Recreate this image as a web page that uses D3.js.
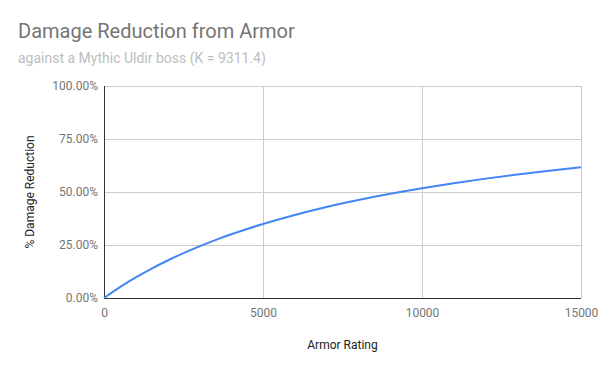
<!DOCTYPE html>
<html><head><meta charset="utf-8">
<script src="https://cdn.jsdelivr.net/npm/d3@7"></script>
<style>body{margin:0;background:#fff}svg{display:block;font-family:Roboto,sans-serif}</style>
</head><body>
<script>
const armor = [0,500,1000,1500,2000,2500,3000,3500,4000,4500,5000,6000,7000,8000,9000,10000,11000,12000,13000,14000,15000];
const reduction = [0,0.0510,0.0970,0.1387,0.1768,0.2117,0.2437,0.2732,0.3005,0.3258,0.3494,0.3919,0.4292,0.4621,0.4915,0.5178,0.5416,0.5631,0.5827,0.6006,0.6170];
const xTicks = [0,5000,10000,15000];
const yTicks = [0,0.25,0.5,0.75,1];

const W=600,H=371;
const m={l:104,r:19,t:86,b:73};
const svg=d3.select("body").append("svg").attr("width",W).attr("height",H);
svg.append("rect").attr("width",W).attr("height",H).attr("fill","#fff");
const x=d3.scaleLinear().domain([0,15000]).range([m.l,W-m.r]);
const y=d3.scaleLinear().domain([0,1]).range([H-m.b,m.t]);

svg.append("text").attr("x",18).attr("y",38).attr("font-size",20).attr("fill","#757575").text("Damage Reduction from Armor");
svg.append("text").attr("x",18).attr("y",63).attr("font-size",14).attr("fill","#bdbdbd").text("against a Mythic Uldir boss (K = 9311.4)");

// grid
svg.append("g").selectAll("line").data(yTicks.filter(d=>d>0)).join("line")
  .attr("x1",m.l).attr("x2",W-m.r).attr("y1",d=>Math.round(y(d))+0.5).attr("y2",d=>Math.round(y(d))+0.5)
  .attr("stroke","#cccccc");
svg.append("g").selectAll("line").data(xTicks.filter(d=>d>0)).join("line")
  .attr("y1",m.t).attr("y2",H-m.b).attr("x1",d=>Math.round(x(d))+0.5).attr("x2",d=>Math.round(x(d))+0.5)
  .attr("stroke","#cccccc");

// axes
const xa=svg.append("g").attr("transform",`translate(0,${H-m.b})`)
  .call(d3.axisBottom(x).tickValues(xTicks).tickSize(0).tickPadding(10).tickFormat(d3.format("d")));
const ya=svg.append("g").attr("transform",`translate(${m.l},0)`)
  .call(d3.axisLeft(y).tickValues(yTicks).tickSize(0).tickPadding(6).tickFormat(d=>(d*100).toFixed(2)+"%"));
[xa,ya].forEach(a=>{a.select(".domain").remove();a.selectAll("text").attr("font-size",12).attr("fill","#757575").attr("font-family","Roboto,sans-serif");});
svg.append("line").attr("x1",m.l).attr("x2",W-m.r).attr("y1",H-m.b+0.5).attr("y2",H-m.b+0.5).attr("stroke","#333");
svg.append("line").attr("x1",m.l+0.5).attr("x2",m.l+0.5).attr("y1",m.t).attr("y2",H-m.b).attr("stroke","#333");

// line
svg.append("path").datum(armor.map((a,i)=>[a,reduction[i]]))
  .attr("fill","none").attr("stroke","#4285f4").attr("stroke-width",2)
  .attr("d",d3.line().x(d=>x(d[0])).y(d=>y(d[1])).curve(d3.curveMonotoneX));

svg.append("text").attr("x",(m.l+W-m.r)/2).attr("y",349).attr("text-anchor","middle").attr("font-size",12).attr("fill","#222").text("Armor Rating");
svg.append("text").attr("transform",`translate(34,${(m.t+H-m.b)/2}) rotate(-90)`).attr("text-anchor","middle").attr("font-size",12).attr("fill","#222").text("% Damage Reduction");
</script>
</body></html>
